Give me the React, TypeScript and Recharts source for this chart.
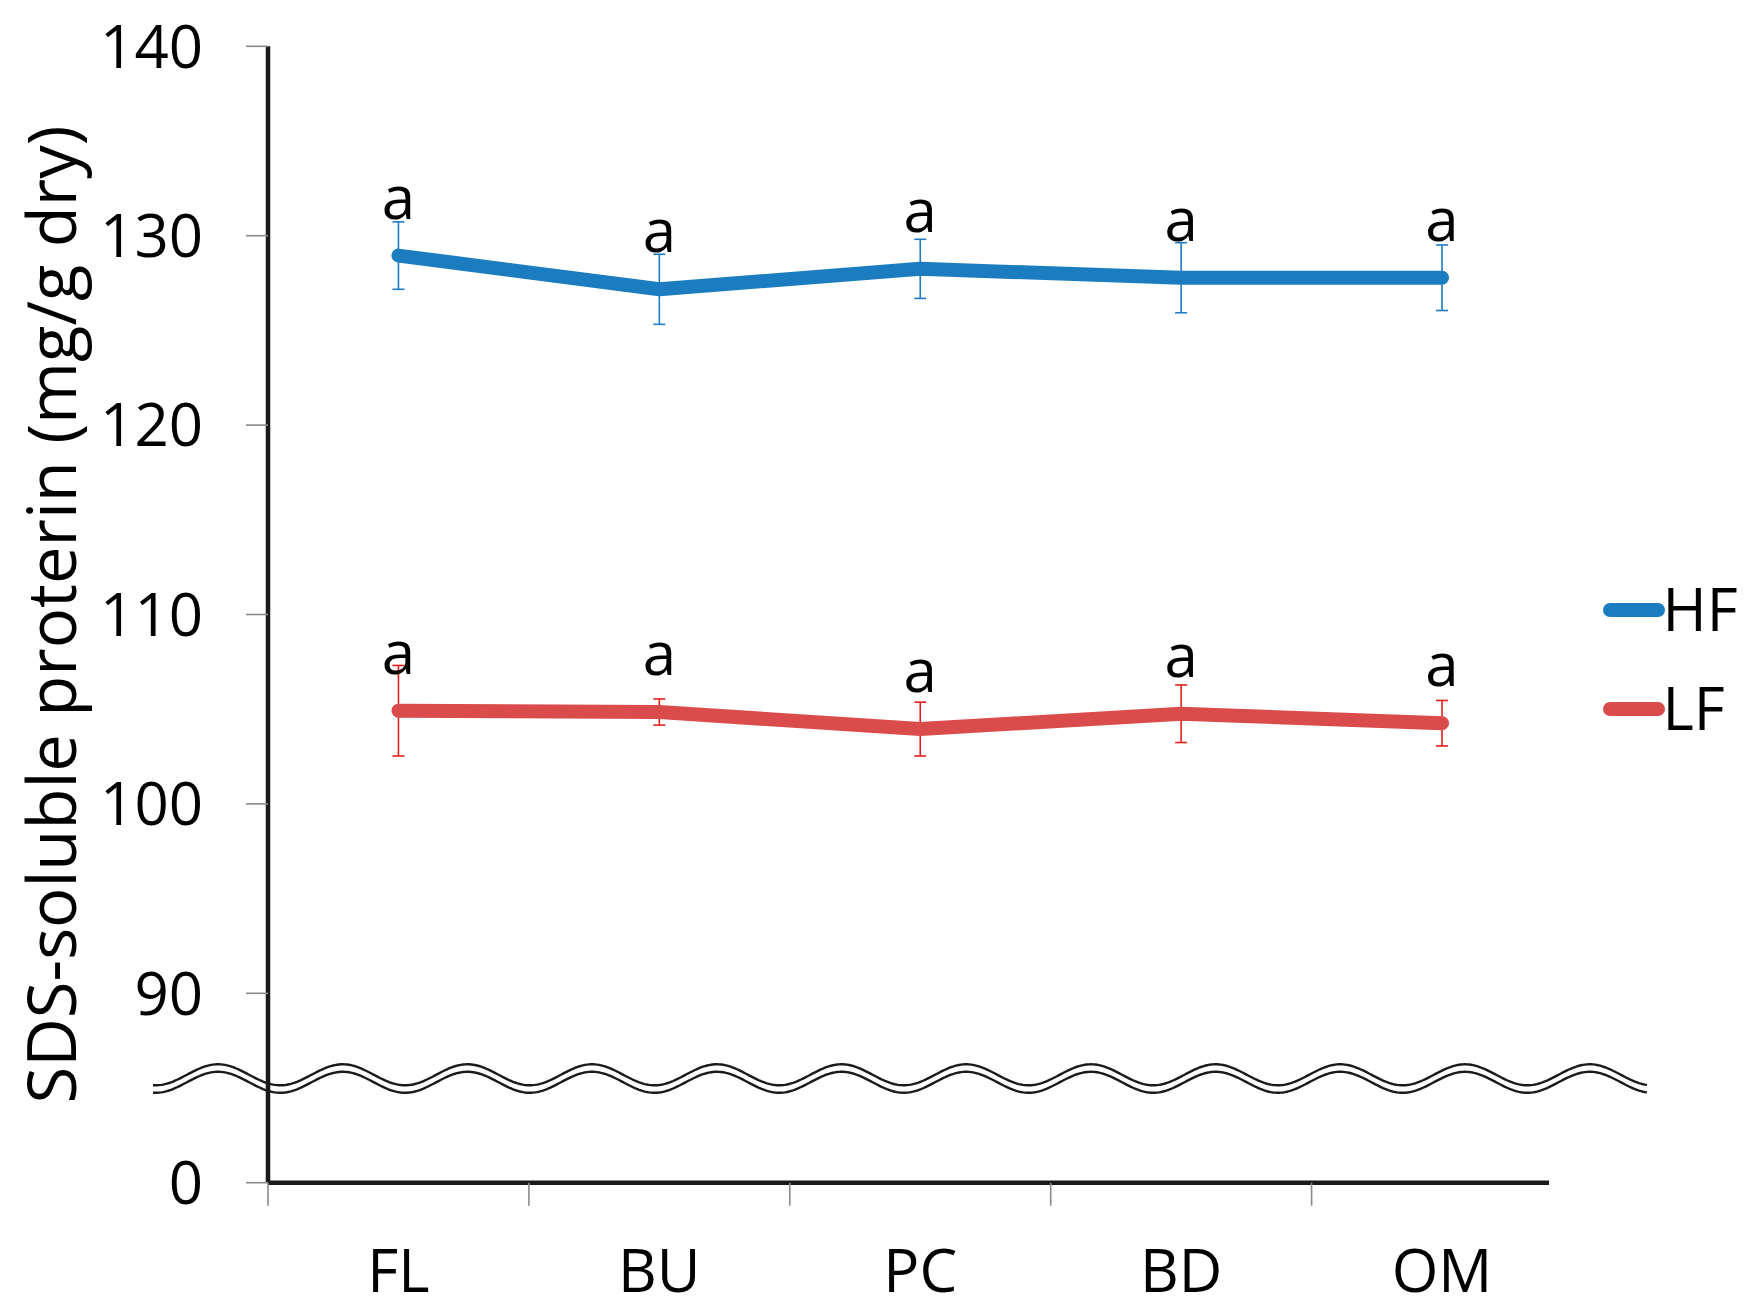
import React from 'react';
import {
  LineChart,
  Line,
  XAxis,
  YAxis,
  ErrorBar,
  LabelList,
  Legend,
  ReferenceLine,
  Label,
} from 'recharts';

// ---------- data ----------
const categories = ['FL', 'BU', 'PC', 'BD', 'OM'];
const hfValues = [128.95, 127.17, 128.25, 127.78, 127.78];
const hfErrors = [1.78, 1.85, 1.56, 1.85, 1.73];
const hfLetters = ['a', 'a', 'a', 'a', 'a'];
const lfValues = [104.92, 104.85, 103.95, 104.76, 104.26];
const lfErrors = [2.39, 0.69, 1.42, 1.52, 1.2];
const lfLetters = ['a', 'a', 'a', 'a', 'a'];
const yTickValues = [80, 90, 100, 110, 120, 130, 140];
const yTickLabels = ['0', '90', '100', '110', '120', '130', '140'];
const yLabel = 'SDS-soluble proterin (mg/g dry)';
const breakValue = 85.5;
const X_MAX = 4.91;

const rows = categories.map((name, i) => ({
  x: i + 0.5,
  name,
  hf: hfValues[i],
  hfErr: hfErrors[i],
  hfLabel: hfLetters[i],
  lf: lfValues[i],
  lfErr: lfErrors[i],
  lfLabel: lfLetters[i],
}));

const FONT = '"Open Sans", "Noto Sans", sans-serif';
const BLUE = '#1B7DC0';
const BLUE_ERR = '#1F7BC4';
const RED = '#D94C4B';
const RED_ERR = '#E3201C';

const letterContent = (props: any) => {
  const vb = props.viewBox || {};
  const cx = props.x ?? (vb.x + (vb.width || 0) / 2);
  const cy = props.y ?? vb.y;
  return (
    <text
      x={cx}
      y={cy - 37}
      textAnchor="middle"
      fontSize={60}
      fontFamily={FONT}
      fill="#000"
    >
      {props.value}
    </text>
  );
};

const WaveShape = (props: any) => {
  const { x1, x2, y1 } = props;
  const start = x1 - 115;
  const end = x2 + 98;
  const period = 124.7;
  const amp = 10.5;
  const peak0 = x1 - 50;
  let top = '';
  let bottom = '';
  for (let x = start; x <= end + 0.01; x += 2) {
    const yy = y1 - 3.75 - amp * Math.cos((2 * Math.PI * (x - peak0)) / period);
    top += (top ? ' L ' : 'M ') + x.toFixed(1) + ' ' + yy.toFixed(2);
    bottom += (bottom ? ' L ' : 'M ') + x.toFixed(1) + ' ' + (yy + 7.5).toFixed(2);
  }
  return (
    <g>
      <path d={top} fill="none" stroke="#1a1a1a" strokeWidth={2.4} />
      <path d={bottom} fill="none" stroke="#1a1a1a" strokeWidth={2.4} />
    </g>
  );
};

const legendContent = (props: any) => {
  const payload = props.payload || [];
  return (
    <svg width={157} height={200}>
      {payload.map((p: any, i: number) => (
        <g key={i}>
          <line
            x1={20}
            x2={68}
            y1={50 + i * 99}
            y2={50 + i * 99}
            stroke={p.color}
            strokeWidth={14}
            strokeLinecap="round"
          />
          <text x={72.5} y={71 + i * 99} fontSize={60} fontFamily={FONT} fill="#000">
            {p.value}
          </text>
        </g>
      ))}
    </svg>
  );
};

const yLabelContent = (props: any) => {
  const vb = props.viewBox || {};
  const x = vb.x + 76;
  const y = vb.y + vb.height / 2;
  return (
    <text
      x={x}
      y={y}
      transform={`rotate(-90, ${x}, ${y})`}
      textAnchor="middle"
      fontSize={67}
      fontFamily={FONT}
      fill="#000"
    >
      {yLabel}
    </text>
  );
};

const emptyTick = () => <g />;

export default function App() {
  return (
    <div style={{ position: 'absolute', left: 0, top: 0, background: '#fff' }}>
      <LineChart
        width={1747}
        height={1311}
        data={rows}
        margin={{ top: 46.3, right: 198, bottom: 47.3, left: 0 }}
        style={{ fontFamily: FONT }}
      >
        <XAxis
          xAxisId="a_main"
          dataKey="x"
          type="number"
          domain={[0, X_MAX]}
          ticks={[0, 1, 2, 3, 4]}
          interval={0}
          height={1}
          tick={emptyTick}
          tickSize={23}
          tickLine={{ stroke: '#8a8a8a', strokeWidth: 1.6 }}
          axisLine={{ stroke: '#1a1a1a', strokeWidth: 4.5 }}
          allowDataOverflow
        />
        <XAxis
          xAxisId="b_lab"
          dataKey="x"
          type="number"
          domain={[0, X_MAX]}
          ticks={[0.5, 1.5, 2.5, 3.5, 4.5]}
          interval={0}
          height={80}
          axisLine={false}
          tickLine={false}
          tickSize={0}
          tickMargin={66}
          tickFormatter={(v: number) => categories[Math.floor(v)]}
          tick={{ fontSize: 60, fill: '#000', fontFamily: FONT }}
          allowDataOverflow
        />
        <YAxis
          type="number"
          domain={[80, 140]}
          ticks={yTickValues}
          interval={0}
          width={268}
          tickSize={22}
          tickMargin={43}
          tickLine={{ stroke: '#8a8a8a', strokeWidth: 1.6 }}
          axisLine={{ stroke: '#1a1a1a', strokeWidth: 4.5 }}
          tickFormatter={(v: number) => yTickLabels[yTickValues.indexOf(v)]}
          tick={{ fontSize: 60, fill: '#000', fontFamily: FONT }}
          allowDataOverflow
        >
          <Label content={yLabelContent} />
        </YAxis>
        <ReferenceLine
          xAxisId="a_main"
          y={breakValue}
          shape={WaveShape}
          ifOverflow="visible"
        />
        <Line
          xAxisId="a_main"
          dataKey="hf"
          name="HF"
          stroke={BLUE}
          strokeWidth={14}
          strokeLinecap="round"
          strokeLinejoin="round"
          dot={false}
          activeDot={false}
          isAnimationActive={false}
        >
          <ErrorBar dataKey="hfErr" width={6} stroke={BLUE_ERR} strokeWidth={1.6} direction="y" />
          <LabelList dataKey="hfLabel" content={letterContent} />
        </Line>
        <Line
          xAxisId="a_main"
          dataKey="lf"
          name="LF"
          stroke={RED}
          strokeWidth={14}
          strokeLinecap="round"
          strokeLinejoin="round"
          dot={false}
          activeDot={false}
          isAnimationActive={false}
        >
          <ErrorBar dataKey="lfErr" width={6} stroke={RED_ERR} strokeWidth={1.6} direction="y" />
          <LabelList dataKey="lfLabel" content={letterContent} />
        </Line>
        <Legend
          layout="horizontal"
          align="center"
          verticalAlign="middle"
          content={legendContent}
          wrapperStyle={{ position: 'absolute', left: 1590, top: 560, width: 157, height: 200 }}
        />
      </LineChart>
    </div>
  );
}
